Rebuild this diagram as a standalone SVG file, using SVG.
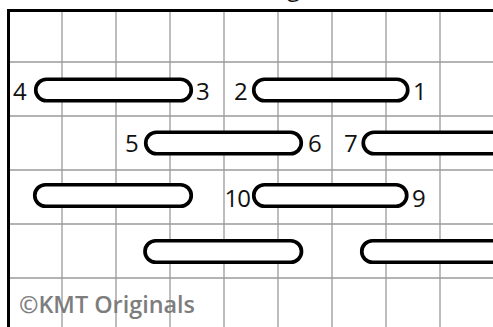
<svg xmlns="http://www.w3.org/2000/svg" width="493" height="327" viewBox="0 0 493 327">
  <style>
    .grid { stroke: #9a9a9a; stroke-width: 1.3; fill: none; }
    .border { stroke: #000; stroke-width: 3; fill: none; }
    .stitch { fill: #fff; stroke: #000; stroke-width: 3.7; }
    .lbl { font-family: "Open Sans", "Liberation Sans", sans-serif; font-size: 24px; fill: #111; }
    .copy { font-family: "Open Sans", "Liberation Sans", sans-serif; font-size: 23px; font-weight: 600; fill: #7d7d7d; }
  </style>
  <rect x="0" y="0" width="493" height="327" fill="#fff"/>
  <text class="lbl" x="287" y="-4" font-size="26">g</text>
  <g id="grid">
    <path class="grid" d="M62 10V327M116 10V327M170 10V327M224 10V327M278 10V327M332 10V327M386 10V327M440 10V327"/>
    <path class="grid" d="M8 62H493M8 116H493M8 170H493M8 224H493M8 278H493"/>
    <path class="border" d="M8.5 327V10.5H493"/>
  </g>
  <g id="stitch-4-3">
    <rect class="stitch" x="35.75" y="79.25" width="155.5" height="21.5" rx="10.75"/>
    <text class="lbl" x="13" y="100">4</text>
    <text class="lbl" x="196" y="100">3</text>
  </g>
  <g id="stitch-2-1">
    <rect class="stitch" x="253.75" y="79.25" width="154" height="21.5" rx="10.75"/>
    <text class="lbl" x="234" y="100">2</text>
    <text class="lbl" x="413" y="100">1</text>
  </g>
  <g id="stitch-5-6">
    <rect class="stitch" x="145.75" y="132.25" width="155.5" height="21.5" rx="10.75"/>
    <text class="lbl" x="125" y="152">5</text>
    <text class="lbl" x="308" y="152">6</text>
  </g>
  <g id="stitch-7">
    <rect class="stitch" x="363.25" y="132.25" width="155.5" height="21.5" rx="10.75"/>
    <text class="lbl" x="344" y="152">7</text>
  </g>
  <g id="stitch-row3-left">
    <rect class="stitch" x="34.75" y="184.75" width="156.5" height="21.5" rx="10.75"/>
  </g>
  <g id="stitch-10-9">
    <rect class="stitch" x="253.75" y="184.75" width="153" height="21.5" rx="10.75"/>
    <text class="lbl" x="224.5" y="207" letter-spacing="-1">10</text>
    <text class="lbl" x="412" y="207">9</text>
  </g>
  <g id="stitch-row4-left">
    <rect class="stitch" x="145" y="240.75" width="156.5" height="21.5" rx="10.75"/>
  </g>
  <g id="stitch-row4-right">
    <rect class="stitch" x="361.75" y="240.75" width="155.5" height="21.5" rx="10.75"/>
  </g>
  <text class="copy" x="19" y="313" textLength="176" lengthAdjust="spacingAndGlyphs">©KMT Originals</text>
</svg>
